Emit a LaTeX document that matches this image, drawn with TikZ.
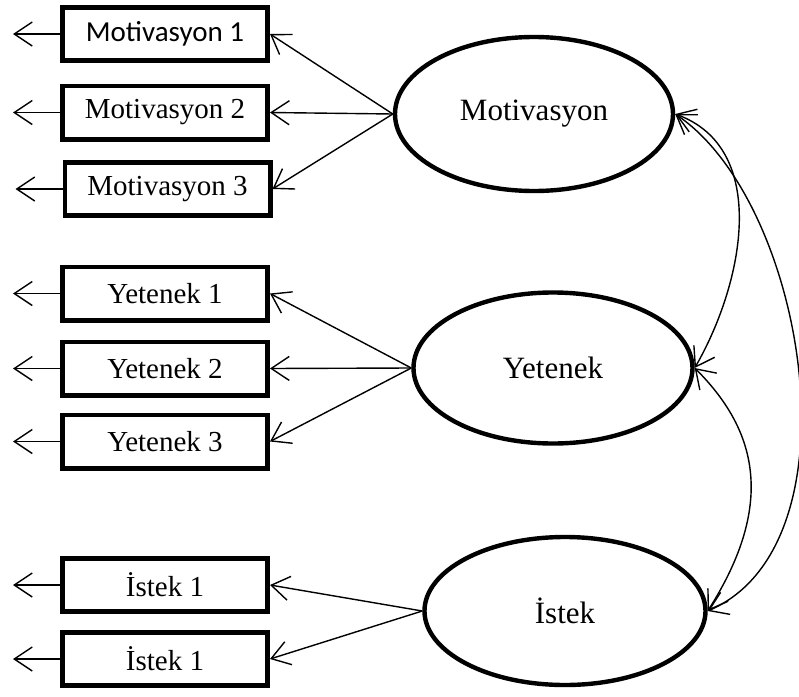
\documentclass[tikz,border=0pt]{standalone}
\usepackage{fontspec}
\setmainfont{Liberation Serif}
\newfontfamily\calibri{Carlito}
\usetikzlibrary{shapes.geometric, arrows.meta}

\tikzset{
	item/.style={draw, line width=2.4pt, minimum width=102.6pt, minimum height=26.6pt, inner sep=0pt, font=\fontsize{14.5}{16}\selectfont},
	factor/.style={draw, ellipse, line width=2.2pt, inner sep=0pt, font=\fontsize{15.5}{18}\selectfont},
	tip/.style={-{Straight Barb[length=9pt, width=12pt]}, line width=0.7pt},
	both/.style={{Straight Barb[length=9pt, width=12pt]}-{Straight Barb[length=9pt, width=12pt]}, line width=0.7pt}
}

\begin{document}
\begin{tikzpicture}[x=0.5pt, y=-0.5pt]
		%picture size
		\useasboundingbox (0,0) rectangle (799,697);
		
		%factors
		\node [factor, minimum width=139pt, minimum height=77pt] (mot) at (534,114) {Motivasyon};
		\node [factor, minimum width=139.5pt, minimum height=75.5pt] (yet) at (553,368) {Yetenek};
		\node [factor, minimum width=140.5pt, minimum height=74pt] (ist) at (565,611) {İstek};
		
		%indicators
		\node [item, font=\calibri\fontsize{14.5}{16}\selectfont] (mot1) at (165,34) {Motivasyon 1};
		\node [item] (mot2) at (165,112.5) {Motivasyon 2};
		\node [item] (mot3) at (167.5,189) {Motivasyon 3};
		
		\node [item] (yet1) at (165,293.5) {Yetenek 1};
		\node [item] (yet2) at (165,368.5) {Yetenek 2};
		\node [item] (yet3) at (165,441.5) {Yetenek 3};
		
		\node [item] (ist1) at (165,585) {İstek 1};
		\node [item] (ist2) at (165,659) {İstek 1};
		
		%loadings
		\foreach \f/\i in {mot/mot1, mot/mot2, mot/mot3, yet/yet1, yet/yet2, yet/yet3, ist/ist1, ist/ist2}
			\draw [tip] (\f.west) -- (\i.east);
		
		%errors
		\foreach \i in {mot1, mot2, mot3, yet1, yet2, yet3, ist1, ist2}
			\draw [tip] (\i.west) -- ++(-47,0);
		
		%covariances
		\draw [both] (mot.east) .. controls +(94,34) and +(50,-87) .. (yet.east);
		\draw [both] (yet.east) .. controls +(60,60) and +(70,-110) .. (ist.east);
		\draw [both] (mot.east) .. controls +(130,87) and +(155,-67) .. (ist.east);
		
	\end{tikzpicture}
\end{document}
